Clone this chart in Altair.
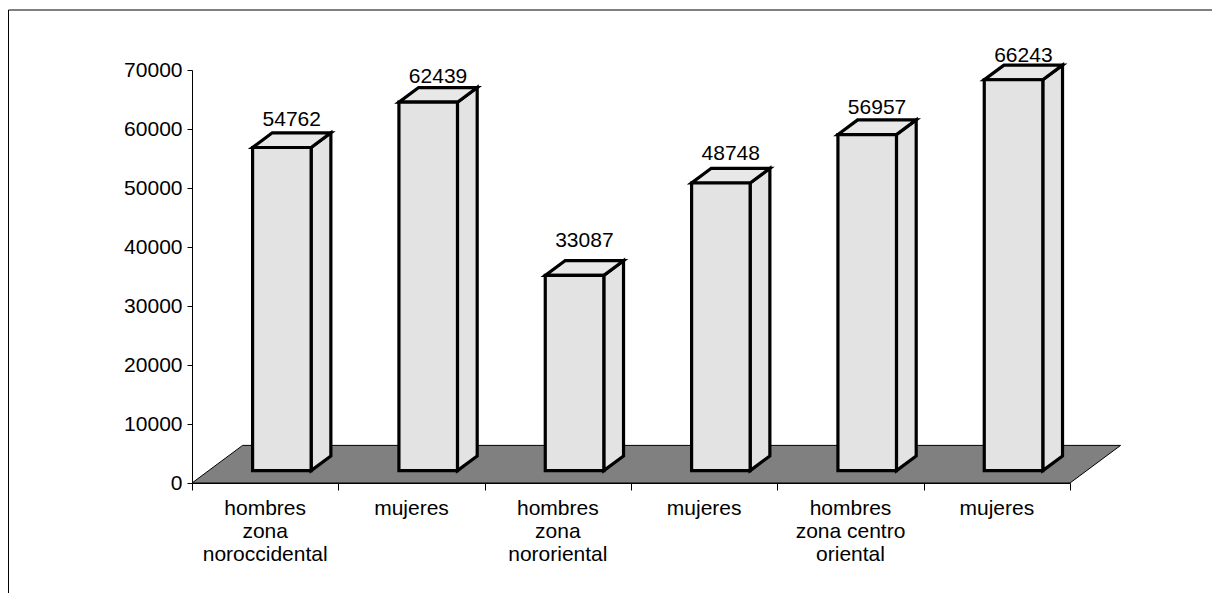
import altair as alt
import pandas as pd

# ---- data ----
label_lines = [
    "hombres\nzona\nnoroccidental",
    "mujeres",
    "hombres\nzona\nnororiental",
    "mujeres",
    "hombres\nzona centro\noriental",
    "mujeres",
]
values = [54762, 62439, 33087, 48748, 56957, 66243]
y_ticks = [0, 10000, 20000, 30000, 40000, 50000, 60000, 70000]

# ---- geometry / style ----
FONT = "Liberation Sans"
W, H = 878, 413
YMAX = 70000
N = len(values)
PX_X = W / N          # pixels per category unit
PX_Y = H / YMAX       # pixels per value unit
DX = 50.6 / PX_X      # floor depth (x) in category units
DY = 37.6 / PX_Y      # floor depth (y) in value units
D0, D1 = 0.33, 0.72   # bar depth range within the floor
HALF = 0.2            # half bar width (band fraction)
BAR_FILL = "#e3e3e3"
EDGE = 3.2

front, side, top = [], [], []
for i, v in enumerate(values):
    xl, xr = i + 0.5 - HALF, i + 0.5 + HALF
    front.append(dict(bar=i, x=xl + D0 * DX, x2=xr + D0 * DX, y=D0 * DY, y2=v + D0 * DY))
    for d in (D0, D1):
        side.append(dict(bar=i, x=xr + d * DX, y=d * DY, y2=v + d * DY))
        top.append(dict(bar=i, y=v + d * DY, x=xl + d * DX, x2=xr + d * DX))
front = pd.DataFrame(front)
side = pd.DataFrame(side)
top = pd.DataFrame(top)
floor = pd.DataFrame([dict(y=0.0, x=0.0, x2=float(N)), dict(y=DY, x=DX, x2=N + DX)])

vlabels = pd.DataFrame(
    [dict(x=i + 0.5 + (D0 + D1) / 2 * DX, y=8771 + 0.9442 * v, text=str(v)) for i, v in enumerate(values)]
)
xlabels = pd.DataFrame([dict(x=i + 0.5, y=0.0, text=t) for i, t in enumerate(label_lines)])
frame_df = pd.DataFrame([dict(k=0)])

xs = alt.Scale(domain=[0, N], nice=False, zero=False)
ys = alt.Scale(domain=[0, YMAX], nice=False, zero=False)

x_axis = alt.Axis(values=list(range(N + 1)), labels=False, ticks=True, tickSize=7,
                  tickColor="black", domainColor="black", grid=False, title=None, zindex=1)
y_axis = alt.Axis(values=y_ticks, format="d", labelFont=FONT, labelFontSize=21,
                  labelColor="black", tickSize=5, tickColor="black", labelPadding=5,
                  domainColor="black", grid=False, title=None, zindex=1)


def X(f):
    return alt.X(f, scale=xs, axis=x_axis)


def Y(f):
    return alt.Y(f, scale=ys, axis=y_axis)


floor_layer = alt.Chart(floor).mark_area(
    orient="horizontal", fill="#808080", stroke="black", strokeWidth=1
).encode(y=Y("y:Q"), x=X("x:Q"), x2="x2:Q")

side_layer = alt.Chart(side).mark_area(
    orient="vertical", fill=BAR_FILL, stroke="black", strokeWidth=EDGE, strokeJoin="miter"
).encode(x=X("x:Q"), y=Y("y:Q"), y2="y2:Q", detail="bar:N")

top_layer = alt.Chart(top).mark_area(
    orient="horizontal", fill="#e8e8e8", stroke="black", strokeWidth=EDGE, strokeJoin="miter"
).encode(y=Y("y:Q"), x=X("x:Q"), x2="x2:Q", detail="bar:N")

front_layer = alt.Chart(front).mark_rect(
    fill=BAR_FILL, stroke="black", strokeWidth=EDGE, strokeJoin="miter"
).encode(x=X("x:Q"), x2="x2:Q", y=Y("y:Q"), y2="y2:Q")

vlabel_layer = alt.Chart(vlabels).mark_text(
    font=FONT, fontSize=21, color="black", baseline="alphabetic", align="center"
).encode(x=X("x:Q"), y=Y("y:Q"), text="text:N")

xlabel_layer = alt.Chart(xlabels).mark_text(
    font=FONT, fontSize=21, color="black", baseline="top", align="center",
    lineBreak="\n", lineHeight=23, dy=15
).encode(x=X("x:Q"), y=Y("y:Q"), text="text:N")

frame_layer = alt.Chart(frame_df).mark_rect(
    filled=False, stroke="black", strokeWidth=1
).encode(
    x=alt.value(-183.5), x2=alt.value(W + 400),
    y=alt.value(-60), y2=alt.value(H + 400),
)

chart = alt.layer(
    frame_layer, floor_layer, side_layer, top_layer, front_layer, vlabel_layer, xlabel_layer
).properties(
    width=W, height=H,
    autosize=alt.AutoSizeParams(type="none"),
    padding={"left": 184, "top": 62, "right": 142, "bottom": 110},
    background="white",
).configure_view(stroke=None)

chart.save("out.html", embed_options={"renderer": "svg", "actions": False})
